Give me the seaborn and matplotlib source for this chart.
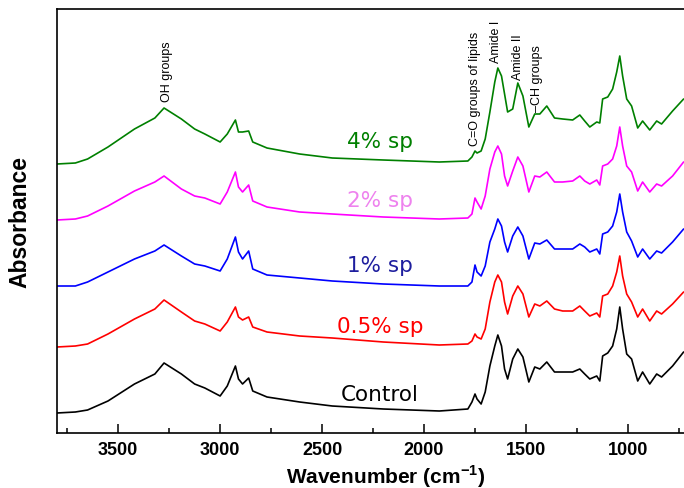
import numpy as np
import pandas as pd
import seaborn as sns
import matplotlib.pyplot as plt
from matplotlib.ticker import MultipleLocator

# wavenumber grid (cm-1)
wavenumber = [3800, 3710, 3650, 3550, 3420, 3320, 3275, 3190, 3125, 3075, 3000, 2965, 2925, 2910, 2890, 2860, 2840,
              2770, 2610, 2450, 2200, 1925,
              1785, 1765, 1750, 1740, 1720, 1700, 1677, 1653, 1638, 1620, 1605, 1590, 1565, 1540, 1515, 1486, 1457,
              1432, 1398, 1360,
              1320, 1271, 1236, 1212, 1187, 1153, 1138, 1124, 1099, 1075, 1055, 1040, 1026, 1006, 982, 952, 928,
              893, 859, 835, 781, 727]

# stacked absorbance (offsets already included)
control = [0.20, 0.21, 0.23, 0.32, 0.49, 0.59, 0.70, 0.59, 0.49, 0.45, 0.37, 0.47, 0.67, 0.54, 0.49, 0.55, 0.42,
           0.36, 0.31, 0.27, 0.24, 0.22,
           0.24, 0.31, 0.39, 0.34, 0.29, 0.41, 0.67, 0.87, 0.98, 0.87, 0.64, 0.54, 0.74, 0.84, 0.76, 0.51, 0.66,
           0.64, 0.71, 0.61,
           0.61, 0.61, 0.64, 0.59, 0.54, 0.57, 0.52, 0.77, 0.80, 0.87, 1.04, 1.26, 1.04, 0.79, 0.74, 0.52, 0.61,
           0.49, 0.59, 0.56, 0.67, 0.81]
sp_05 = [0.86, 0.87, 0.89, 0.99, 1.14, 1.24, 1.33, 1.21, 1.12, 1.09, 1.02, 1.11, 1.26, 1.16, 1.13, 1.16, 1.06,
         1.01, 0.97, 0.95, 0.91, 0.88,
         0.89, 0.92, 0.99, 0.96, 0.94, 1.04, 1.31, 1.51, 1.58, 1.51, 1.31, 1.19, 1.37, 1.47, 1.39, 1.16, 1.29,
         1.27, 1.32, 1.24,
         1.22, 1.22, 1.27, 1.22, 1.17, 1.20, 1.16, 1.37, 1.39, 1.47, 1.61, 1.77, 1.57, 1.39, 1.31, 1.16, 1.24,
         1.12, 1.22, 1.19, 1.29, 1.41]
sp_1 = [1.47, 1.47, 1.51, 1.61, 1.74, 1.82, 1.88, 1.77, 1.69, 1.67, 1.62, 1.74, 1.96, 1.81, 1.74, 1.82, 1.64,
        1.58, 1.55, 1.52, 1.49, 1.47,
        1.47, 1.51, 1.68, 1.61, 1.57, 1.67, 1.91, 2.04, 2.14, 2.07, 1.91, 1.81, 1.97, 2.06, 1.97, 1.74, 1.90,
        1.89, 1.93, 1.84,
        1.84, 1.84, 1.89, 1.86, 1.81, 1.84, 1.79, 1.99, 2.01, 2.07, 2.21, 2.39, 2.21, 2.01, 1.92, 1.76, 1.84,
        1.74, 1.82, 1.80, 1.91, 2.04]
sp_2 = [2.13, 2.14, 2.17, 2.27, 2.42, 2.51, 2.57, 2.44, 2.37, 2.35, 2.29, 2.41, 2.61, 2.46, 2.41, 2.48, 2.32,
        2.26, 2.21, 2.19, 2.16, 2.14,
        2.15, 2.19, 2.35, 2.31, 2.24, 2.37, 2.64, 2.81, 2.87, 2.79, 2.57, 2.47, 2.62, 2.76, 2.67, 2.41, 2.57,
        2.56, 2.61, 2.51,
        2.51, 2.52, 2.57, 2.52, 2.49, 2.53, 2.48, 2.67, 2.69, 2.74, 2.87, 3.06, 2.87, 2.67, 2.61, 2.42, 2.51,
        2.41, 2.49, 2.47, 2.57, 2.71]
sp_4 = [2.69, 2.70, 2.74, 2.86, 3.04, 3.15, 3.25, 3.14, 3.04, 2.99, 2.91, 2.99, 3.13, 3.01, 3.01, 3.02, 2.91,
        2.85, 2.79, 2.75, 2.73, 2.71,
        2.72, 2.76, 2.82, 2.80, 2.82, 2.94, 3.21, 3.51, 3.65, 3.57, 3.39, 3.21, 3.24, 3.50, 3.37, 3.06, 3.19,
        3.19, 3.27, 3.15,
        3.14, 3.13, 3.18, 3.12, 3.06, 3.11, 3.10, 3.34, 3.36, 3.44, 3.61, 3.77, 3.57, 3.34, 3.27, 3.05, 3.12,
        3.03, 3.12, 3.09, 3.22, 3.34]

samples = ["Control", "0.5% sp", "1% sp", "2% sp", "4% sp"]
line_colors = ["black", "#FF0000", "#0000FF", "#FF00FF", "#008000"]
label_colors = ["black", "#FF0000", "#1E1E9E", "#EE82EE", "#008000"]
label_y = [0.39, 1.07, 1.68, 2.33, 2.92]

# band assignments: (text, wavenumber, bottom of text)
bands = [("OH groups", 3260, 3.32),
         ("C=O groups of lipids", 1750, 2.88),
         ("Amide I", 1645, 3.71),
         ("Amide II", 1540, 3.54),
         ("\u2013CH groups", 1447, 3.22)]

df = pd.concat([pd.DataFrame({"wavenumber": wavenumber, "absorbance": vals, "sample": name})
                for name, vals in zip(samples, [control, sp_05, sp_1, sp_2, sp_4])])

sns.set_style("ticks")
plt.rcParams['font.family'] = ['Liberation Sans', 'DejaVu Sans']
plt.rcParams['mathtext.fontset'] = 'custom'
plt.rcParams['mathtext.bf'] = 'Liberation Sans:bold'
plt.rcParams['mathtext.rm'] = 'Liberation Sans:bold'
for key in ['text.color', 'axes.labelcolor', 'xtick.color', 'ytick.color', 'axes.edgecolor']:
    plt.rcParams[key] = 'black'

fig = plt.figure(figsize=(6.84, 4.89), dpi=100)
ax = fig.add_axes([57 / 684, 1 - 434 / 489, 1 - 57 / 684, 424 / 489])

sns.lineplot(data=df, x="wavenumber", y="absorbance", hue="sample", hue_order=samples,
             palette=line_colors, estimator=None, sort=False, legend=False, linewidth=1.2, ax=ax)

ax.set_xlim(3800, 725)
ax.set_ylim(0, 4.24)

for name, col, y in zip(samples, label_colors, label_y):
    ax.text(2215, y, name, color=col, fontsize=15.5, family='DejaVu Sans', ha='center', va='center')

for text, x, y in bands:
    ax.text(x, y, text, rotation=90, fontsize=9, ha='center', va='bottom')

ax.xaxis.set_major_locator(MultipleLocator(500))
ax.xaxis.set_minor_locator(MultipleLocator(250))
ax.tick_params(axis='x', which='major', direction='in', length=6.5, width=1.1, pad=6, labelsize=13)
ax.tick_params(axis='x', which='minor', direction='in', length=3.6, width=1.1)
ax.tick_params(axis='y', left=False, labelleft=False)
for lab in ax.get_xticklabels():
    lab.set_fontweight('bold')

for side in ['left', 'top', 'bottom']:
    ax.spines[side].set_linewidth(1.2)
ax.spines['right'].set_visible(False)

ax.set_xlabel(r"Wavenumber (cm$^{\mathbf{-1}}$)", fontsize=15, fontweight='bold')
ax.xaxis.set_label_coords((386 - 57) / 627, -0.0685)
ax.xaxis.label.set_va('top')
ax.set_ylabel("Absorbance", fontsize=16.5, fontweight='bold')
ax.yaxis.set_label_coords(-0.040, 0.5)

fig.savefig("out.png", dpi=100)
